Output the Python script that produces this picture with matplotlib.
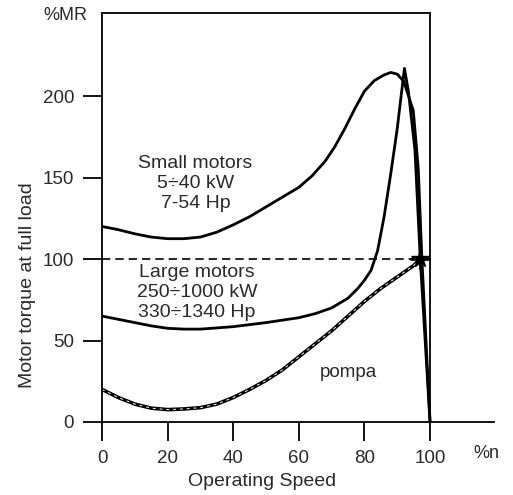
import matplotlib
matplotlib.use("Agg")
import matplotlib.pyplot as plt

plt.rcParams['font.family'] = ['Liberation Sans', 'DejaVu Sans']

# Data
small_x = [0, 5, 10, 15, 20, 25, 30, 35, 40, 45, 50, 55, 60, 64, 68, 71, 74, 77, 80, 83, 86, 88, 90, 92, 94.9, 96.4, 97.5, 100]
small_y = [120, 118, 115.5, 113.5, 112.5, 112.5, 113.5, 116.5, 121, 126, 132, 138, 144, 151, 160, 169, 180, 192, 203, 209.5, 213, 214.5, 213.5, 209, 191, 156, 101, 0]

large_x = [0, 5, 10, 15, 20, 25, 30, 40, 50, 60, 65, 70, 75, 78, 80, 82, 84, 86, 88, 90, 91, 92.2, 93.4, 95.4, 97, 100]
large_y = [65, 63, 61, 59, 57.5, 57, 57, 58.5, 61, 64, 66.5, 70, 76, 82, 87, 93, 105, 126, 152, 180, 197, 217, 203, 167, 101, 0]

pump_x = [0, 5, 10, 15, 20, 25, 30, 35, 40, 45, 50, 55, 60, 65, 70, 75, 80, 85, 90, 95, 97]
pump_y = [20, 15, 11, 8.5, 7.6, 8, 8.8, 11, 15, 20, 25.5, 32, 40, 48, 56, 65, 74, 82, 89, 96, 100]

rated_y = 100
op_point = (97, 100)

x_ticks = [0, 20, 40, 60, 80, 100]
y_ticks = [0, 50, 100, 150, 200]

TXT = '#2a2a2a'
FS = 14

fig = plt.figure(figsize=(5.13, 4.95), dpi=100)
ax = fig.add_axes([102/513, 73/495, 392/513, 409/495])
ax.set_xlim(0, 119.5)
ax.set_ylim(0, 251)

for s in ['top', 'right']:
    ax.spines[s].set_visible(False)
for s in ['left', 'bottom']:
    ax.spines[s].set_linewidth(1.3)

# box lines at x=100 and top
ax.plot([0, 100], [251, 251], color='black', lw=1.3, clip_on=False)
ax.plot([100, 100], [0, 251], color='black', lw=1.3, clip_on=False)

# dashed rated torque line
ax.plot([0, 100], [rated_y, rated_y], color='black', lw=1.2, ls=(0, (5, 3)))

ax.plot(small_x, small_y, color='black', lw=2.0)
ax.plot(large_x, large_y, color='black', lw=2.0)
ax.plot(pump_x, pump_y, color='black', lw=2.6)
ax.plot(pump_x, pump_y, color='white', lw=0.7, ls=(0, (3, 4)))

ax.plot([op_point[0]], [op_point[1]], marker='*', color='black', ms=13)
ax.plot([op_point[0]], [op_point[1]], marker='+', color='black', ms=15, mew=2)

ax.set_xticks(x_ticks)
ax.set_yticks(y_ticks)
ax.tick_params(direction='out', length=14, width=1.3, labelsize=FS - 0.5, labelcolor=TXT, pad=6)

ax.text(28.5, 146.5, "Small motors\n5÷40 kW\n7-54 Hp", ha='center', va='center',
        fontsize=FS, color=TXT, linespacing=1.22)
ax.text(29, 79.5, "Large motors\n250÷1000 kW\n330÷1340 Hp", ha='center', va='center',
        fontsize=FS, color=TXT, linespacing=1.22)
ax.text(75, 30.5, "pompa", ha='center', va='center', fontsize=FS - 0.5, color=TXT)

fig.text(486/513, 1 - 453/495, "%n", ha='center', va='center', fontsize=FS - 1, color=TXT)
fig.text(65/513, 1 - 15/495, "%MR", ha='center', va='center', fontsize=FS - 1, color=TXT)
fig.text(262/513, 1 - 482/495, "Operating Speed", ha='center', va='center', fontsize=FS, color=TXT)
fig.text(28/513, 1 - 285/495, "Motor torque at full load", ha='center', va='center',
         rotation=90, fontsize=FS, color=TXT)

fig.savefig("out.png", dpi=100)
